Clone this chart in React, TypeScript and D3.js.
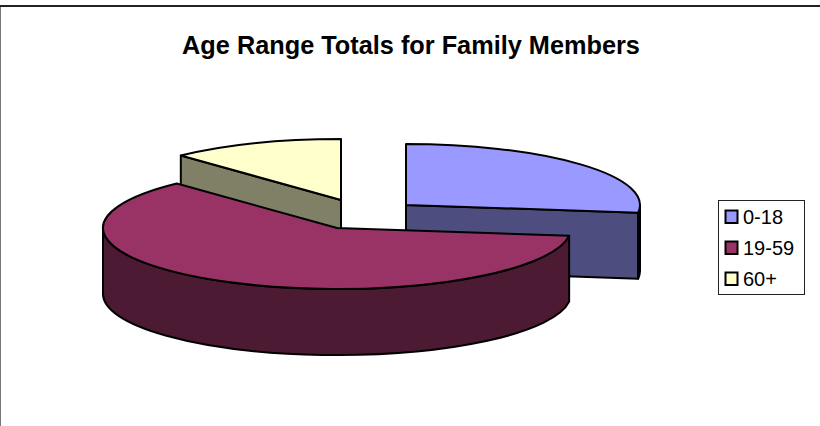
import * as d3 from 'd3';
import React from 'react';

const categories = ['0-18', '19-59', '60+'];
const values = [27, 61, 12];
const topColors = ['#9999ff', '#993366', '#ffffcc'];
const wallColors = ['#4d4d80', '#4d1a33', '#808066'];
// each slice is pulled away from the pie centre, so each has its own apex
const apexX = [406, 337, 341];
const apexY = [205, 228, 200];

const width = 820;
const height = 426;
const rx = 234;
const ry = 61;
const depth = 66;

function px(cx: number, a: number) {
  return cx + rx * Math.sin(a);
}
function py(cy: number, a: number) {
  return cy - ry * Math.cos(a);
}

// elliptical arc in the tilted plane, going clockwise
function arcTo(cx: number, cy: number, a0: number, a1: number) {
  const large = a1 - a0 > Math.PI ? 1 : 0;
  return `A${rx},${ry} 0 ${large} 1 ${px(cx, a1)},${py(cy, a1)}`;
}

export default function App() {
  const arcs = d3.pie<number>().sort(null)(values);
  const legendY = d3.scalePoint<string>().domain(categories).range([217, 279]);

  // back to front: 0-18, 60+, then 19-59 sits over both
  const order = [0, 2, 1];

  return (
    <svg
      width={width}
      height={height}
      style={{ position: 'absolute', left: 0, top: 0, background: '#fff' }}
      fontFamily="'Liberation Sans', Arial, sans-serif"
    >
      <line x1={0.5} y1={5} x2={0.5} y2={height} stroke="#777" strokeWidth={1} />
      <line x1={0} y1={6} x2={width} y2={6} stroke="#222" strokeWidth={2} />

      <text x={411} y={54} textAnchor="middle" fontSize={25.3} fontWeight="bold" fill="#000">
        Age Range Totals for Family Members
      </text>

      {order.map((i) => {
        const d = arcs[i];
        const cx = apexX[i];
        const cy = apexY[i];
        const s = d.startAngle;
        const e = d.endAngle;
        // part of the rim that faces the viewer
        const w0 = Math.max(s, Math.PI / 2);
        const w1 = Math.min(e, (3 * Math.PI) / 2);
        const top = `M${cx},${cy} L${px(cx, s)},${py(cy, s)} ${arcTo(cx, cy, s, e)} Z`;
        const rim =
          w1 > w0
            ? `M${px(cx, w0)},${py(cy, w0)} ${arcTo(cx, cy, w0, w1)} ` +
              `L${px(cx, w1)},${py(cy, w1) + depth} ` +
              `A${rx},${ry} 0 0 0 ${px(cx, w0)},${py(cy, w0) + depth} Z`
            : null;
        // radial cut face, only the one turned to the viewer
        const cutA = i === 0 ? e : s;
        const cut =
          `M${cx},${cy} L${px(cx, cutA)},${py(cy, cutA)} ` +
          `L${px(cx, cutA)},${py(cy, cutA) + depth} L${cx},${cy + depth} Z`;
        return (
          <g key={categories[i]} stroke="#000" strokeWidth={2} strokeLinejoin="round">
            {i !== 1 && <path d={cut} fill={wallColors[i]} />}
            {rim && <path d={rim} fill={wallColors[i]} />}
            <path d={top} fill={topColors[i]} />
          </g>
        );
      })}

      <rect x={718.5} y={200.5} width={86} height={94} fill="#fff" stroke="#222" strokeWidth={1} />
      {categories.map((c, i) => {
        const y = legendY(c) as number;
        return (
          <g key={c}>
            <rect x={725.5} y={y - 6.5} width={12} height={12.5} fill={topColors[i]} stroke="#000" strokeWidth={2} />
            <text x={743} y={y + 7} fontSize={20} fill="#000">
              {c}
            </text>
          </g>
        );
      })}
    </svg>
  );
}
